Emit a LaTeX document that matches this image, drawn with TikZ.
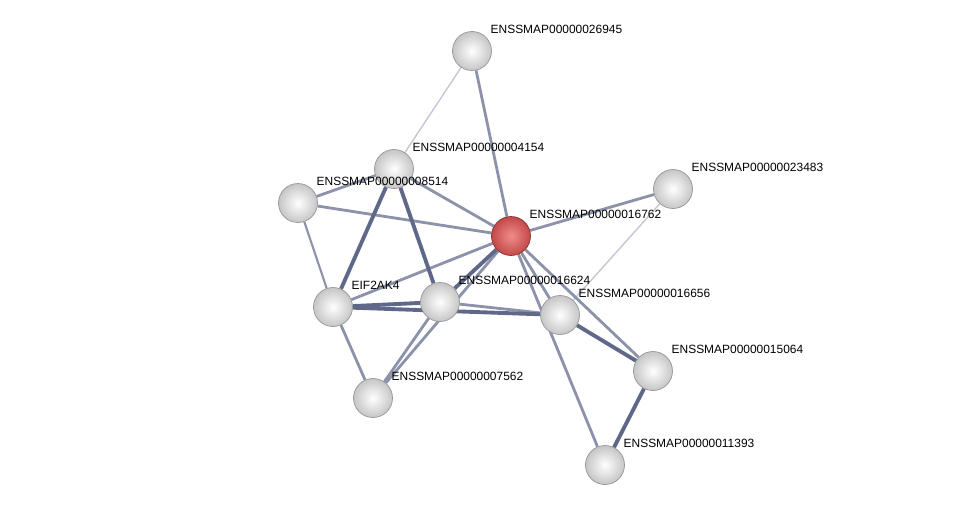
\documentclass[tikz,border=0pt]{standalone}
\usepackage{fontspec}
\setmainfont{Liberation Sans}
\usepackage{tikz}
\usetikzlibrary{
    positioning,
    backgrounds
}
\definecolor{kante}{RGB}{140,146,170}
\definecolor{kantedunkel}{RGB}{96,104,138}
\definecolor{kantehell}{RGB}{196,199,212}
\definecolor{kugelrand}{RGB}{150,150,150}
\definecolor{rothell}{RGB}{240,140,140}
\definecolor{rotdunkel}{RGB}{196,72,72}
\tikzstyle{protein} = [
    circle,
    minimum size=0.78cm,
    inner sep=0pt,
    shading=radial,
    inner color=white,
    outer color=gray!45,
    draw=kugelrand,
    line width=0.4pt
]
\tikzstyle{hub} = [
    protein,
    inner color=rothell,
    outer color=rotdunkel,
    draw=rotdunkel!70!black
]
\tikzstyle{lbl} = [
    xshift=-0.03cm,
    yshift=0.44cm,
    inner sep=0pt,
    font=\fontsize{6.8}{7.5}\selectfont
]
\tikzstyle{duenn} = [kantehell, line width=0.8pt]
\tikzstyle{mittel} = [kante, line width=1.6pt]
\tikzstyle{dick} = [kantedunkel, line width=2.2pt]

\begin{document}
\begin{tikzpicture}[x=0.02cm, y=-0.02cm]
% Rahmen wie im Original
\useasboundingbox (0,0) rectangle (976,510);

% Proteine
\node[protein, label={[lbl]right:ENSSMAP00000026945}] (p26945) at (472,51) {};
\node[protein, label={[lbl]right:ENSSMAP00000004154}] (p4154) at (394,169) {};
\node[protein, label={[lbl]right:ENSSMAP00000008514}] (p8514) at (298,203) {};
\node[protein, label={[lbl]right:ENSSMAP00000023483}] (p23483) at (673,189) {};
\node[hub, label={[lbl]right:ENSSMAP00000016762}] (p16762) at (511,236) {};
\node[protein, label={[lbl]right:ENSSMAP00000016624}] (p16624) at (440,302) {};
\node[protein, label={[lbl]right:EIF2AK4}] (eif) at (333,307) {};
\node[protein, label={[lbl]right:ENSSMAP00000016656}] (p16656) at (560,315) {};
\node[protein, label={[lbl]right:ENSSMAP00000015064}] (p15064) at (653,371) {};
\node[protein, label={[lbl]right:ENSSMAP00000007562}] (p7562) at (373,398) {};
\node[protein, label={[lbl]right:ENSSMAP00000011393}] (p11393) at (605,465) {};

% Kanten hinter den Knoten
\begin{scope}[on background layer]
    % schwache Kanten
    \draw[duenn] (p26945) -- (p4154);
    \draw[duenn] (p23483) -- (p16656);
    \draw[duenn, kante, line width=1.2pt] (p8514) -- (eif);

    % mittlere Kanten
    \foreach \a/\b in {p26945/p16762, p4154/p16762, p4154/p8514, p8514/p16762,
                       p23483/p16762, eif/p16762, p7562/p16762, p7562/p16624,
                       p16762/p16656, p16762/p15064, p16762/p11393,
                       p16624/p16656, eif/p7562} {
        \draw[mittel] (\a) -- (\b);
    }

    % starke Kanten
    \foreach \a/\b in {p4154/eif, p4154/p16624, eif/p16624, eif/p16656,
                       p16762/p16624, p16656/p15064, p15064/p11393} {
        \draw[dick] (\a) -- (\b);
    }
\end{scope}
\end{tikzpicture}
\end{document}
